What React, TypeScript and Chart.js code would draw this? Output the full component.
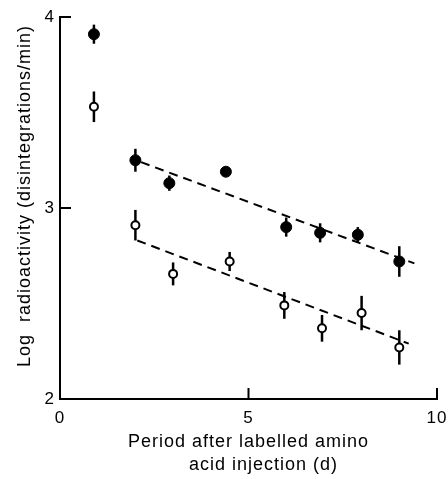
import { useEffect, useRef } from "react";
import { Chart, registerables } from "chart.js";

Chart.register(...registerables);

// Filled circles
const filledDays = [0.9, 2, 2.9, 4.4, 6, 6.9, 7.9, 9];
const filledLogActivity = [3.91, 3.25, 3.13, 3.19, 2.9, 2.87, 2.86, 2.72];
const filledErrors = [0.05, 0.06, 0.04, 0, 0.05, 0.05, 0.04, 0.08];

// Open circles
const openDays = [0.9, 2, 3, 4.5, 5.95, 6.95, 8, 9];
const openLogActivity = [3.53, 2.91, 2.655, 2.72, 2.49, 2.37, 2.45, 2.27];
const openErrors = [0.08, 0.08, 0.06, 0.05, 0.07, 0.07, 0.09, 0.09];

// Dashed regression lines
const filledFitDays = [2.15, 9.4];
const filledFitValues = [3.24, 2.71];
const openFitDays = [2.05, 9.25];
const openFitValues = [2.83, 2.29];

// Ticks
const xTicks = [0, 5, 10];
const yTicks = [2, 3, 4];

const xTitle = ["Period after labelled amino", "     acid injection (d)"];
const yTitle = "    Log  radioactivity (disintegrations/min)";

const FONT = "'Liberation Sans', Arial, Helvetica, sans-serif";

const toPoints = (xs: number[], ys: number[]) => xs.map((x, i) => ({ x, y: ys[i] }));

const spacingPlugin = {
  id: "letterSpacing",
  beforeDraw(chart: any) {
    (chart.ctx as any).letterSpacing = "1px";
  },
};

const errorBarPlugin = {
  id: "errorBars",
  beforeDatasetsDraw(chart: any) {
    const { ctx, scales } = chart;
    const x = scales.x;
    const y = scales.y;
    ctx.save();
    ctx.strokeStyle = "#000";
    ctx.lineWidth = 2.5;
    chart.data.datasets.forEach((ds: any) => {
      if (!ds.errors) return;
      ds.data.forEach((p: any, j: number) => {
        const e = ds.errors[j];
        if (!e) return;
        const px = x.getPixelForValue(p.x);
        ctx.beginPath();
        ctx.moveTo(px, y.getPixelForValue(p.y - e));
        ctx.lineTo(px, y.getPixelForValue(p.y + e));
        ctx.stroke();
      });
    });
    ctx.restore();
  },
};

const innerTicksPlugin = {
  id: "innerTicks",
  afterDraw(chart: any) {
    const { ctx, chartArea, scales } = chart;
    const x = scales.x;
    const y = scales.y;
    ctx.save();
    ctx.strokeStyle = "#000";
    ctx.lineWidth = 2;
    yTicks.forEach((v) => {
      if (v === y.min) return;
      const py = y.getPixelForValue(v);
      ctx.beginPath();
      ctx.moveTo(chartArea.left, py);
      ctx.lineTo(chartArea.left + 11, py);
      ctx.stroke();
    });
    xTicks.forEach((v) => {
      if (v === x.min) return;
      const px = x.getPixelForValue(v);
      ctx.beginPath();
      ctx.moveTo(px, chartArea.bottom);
      ctx.lineTo(px, chartArea.bottom - 11);
      ctx.stroke();
    });
    ctx.restore();
  },
};

export default function App() {
  const canvasRef = useRef<HTMLCanvasElement | null>(null);

  useEffect(() => {
    if (!canvasRef.current) return;
    const chart = new Chart(canvasRef.current, {
      type: "scatter",
      data: {
        datasets: [
          {
            type: "line",
            data: toPoints(filledFitDays, filledFitValues),
            borderColor: "#000",
            borderWidth: 2,
            borderDash: [9, 6],
            pointRadius: 0,
            fill: false,
          } as any,
          {
            type: "line",
            data: toPoints(openFitDays, openFitValues),
            borderColor: "#000",
            borderWidth: 2,
            borderDash: [9, 6],
            pointRadius: 0,
            fill: false,
          } as any,
          {
            data: toPoints(filledDays, filledLogActivity),
            errors: filledErrors,
            pointRadius: 5.5,
            pointBackgroundColor: "#000",
            pointBorderColor: "#000",
            pointBorderWidth: 1,
            clip: false,
          } as any,
          {
            data: toPoints(openDays, openLogActivity),
            errors: openErrors,
            pointRadius: 4,
            pointBackgroundColor: "#fff",
            pointBorderColor: "#000",
            pointBorderWidth: 2,
            clip: false,
          } as any,
        ],
      },
      options: {
        animation: false,
        responsive: false,
        devicePixelRatio: 1,
        layout: { padding: { top: 17, right: 11, bottom: 0, left: 0 } },
        plugins: {
          legend: { display: false },
          tooltip: { enabled: false },
        },
        scales: {
          x: {
            type: "linear",
            min: 0,
            max: 10,
            afterBuildTicks: (s: any) => {
              s.ticks = xTicks.map((v) => ({ value: v }));
            },
            afterFit: (s: any) => {
              s.height = 80;
              s.paddingLeft = 0;
              s.paddingRight = 0;
            },
            grid: { display: false, drawTicks: false },
            border: { display: true, color: "#000", width: 2 },
            ticks: {
              padding: 9,
              color: "#000",
              font: { family: FONT, size: 17 },
              maxRotation: 0,
              autoSkip: false,
            },
            title: {
              display: true,
              text: xTitle,
              color: "#000",
              font: { family: FONT, size: 18, lineHeight: 1.3 },
              padding: { top: 0, bottom: 2 },
            },
          },
          y: {
            type: "linear",
            min: 2,
            max: 4,
            afterBuildTicks: (s: any) => {
              s.ticks = yTicks.map((v) => ({ value: v }));
            },
            afterFit: (s: any) => {
              s.width = 60;
              s.paddingTop = 0;
              s.paddingBottom = 0;
            },
            grid: { display: false, drawTicks: false },
            border: { display: true, color: "#000", width: 2 },
            ticks: {
              padding: 5,
              color: "#000",
              font: { family: FONT, size: 17 },
              autoSkip: false,
            },
            title: {
              display: true,
              text: yTitle,
              color: "#000",
              font: { family: FONT, size: 18, lineHeight: 1.2 },
              padding: { top: 14, bottom: 0 },
            },
          },
        },
      } as any,
      plugins: [spacingPlugin, errorBarPlugin, innerTicksPlugin],
    });
    return () => chart.destroy();
  }, []);

  return (
    <div style={{ position: "fixed", left: 0, top: 0, width: 448, height: 479, background: "#fff" }}>
      <canvas ref={canvasRef} width={448} height={479} style={{ display: "block" }} />
    </div>
  );
}
